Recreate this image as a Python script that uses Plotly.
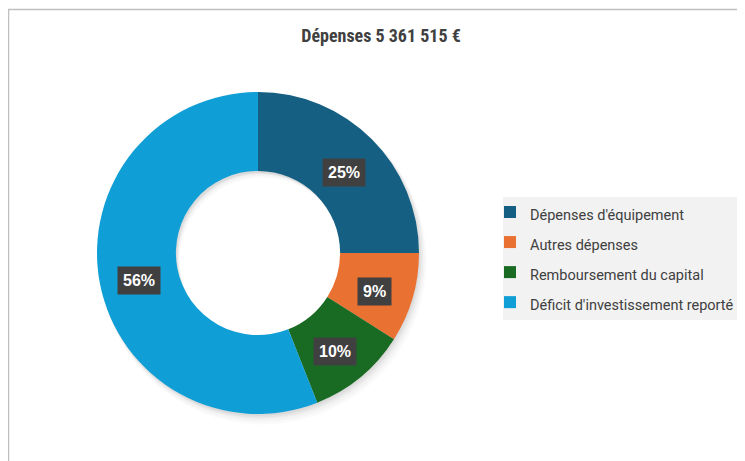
import math
import plotly.graph_objects as go

OFF = 8  # page body margin: page pixel -> figure pixel
W, H = 745 - OFF, 461 - OFF

categories = ["Dépenses d'équipement", "Autres dépenses", "Remboursement du capital", "Déficit d'investissement reporté"]
values = [25, 9, 10, 56]
colors = ["#156082", "#E97132", "#196B24", "#0F9ED5"]
title_text = "Dépenses 5 361 515 €"


def fx(px):
    return (px - OFF) / W


def fy(py):
    return 1 - (py - OFF) / H


# pie geometry (page pixels)
cx, cy, R = 258, 253, 161
hole = 0.51

legend_font_px = 14.5
legend_labels = [f'<span style="font-size:{legend_font_px}px">{c}</span>' for c in categories]

traces = []
# soft drop shadow (Excel effect), layered
for i, (dx, dy, a) in enumerate([(1, 2, 0.035), (2, 3, 0.035), (3, 4, 0.03), (4, 6, 0.025), (5, 8, 0.02)]):
    rr = R + i * 0.6
    traces.append(go.Pie(
        labels=[f"shadow{i}"], values=[sum(values)], hole=hole, sort=False,
        textinfo="none", showlegend=False, hoverinfo="skip",
        marker=dict(colors=[f"rgba(0,0,0,{a})"], line=dict(width=0)),
        domain=dict(x=[fx(cx + dx - rr), fx(cx + dx + rr)], y=[fy(cy + dy + rr), fy(cy + dy - rr)]),
    ))

traces.append(go.Pie(
    labels=legend_labels,
    values=values,
    hole=hole,
    sort=False,
    direction="clockwise",
    rotation=0,
    textinfo="none",
    marker=dict(colors=colors, line=dict(width=0)),
    domain=dict(x=[fx(cx - R), fx(cx + R)], y=[fy(cy + R), fy(cy - R)]),
    hoverinfo="percent",
))

fig = go.Figure(traces)

# percentage labels placed at slice mid-angles
total = sum(values)
cum = 0
annotations = []
r_lab = 121
for v in values:
    mid = (cum + v / 2) / total * 2 * math.pi
    cum += v
    px = cx + r_lab * math.sin(mid)
    py = cy - r_lab * math.cos(mid) + 5
    annotations.append(dict(
        x=fx(px), y=fy(py), xref="paper", yref="paper", xanchor="center", yanchor="middle",
        text=f"<b>{round(v / total * 100)}%</b>", showarrow=False,
        font=dict(family="Liberation Sans, Arial", size=16, color="white"),
        bgcolor="#404040", borderpad=5,
    ))

shapes = [
    # chart border
    dict(type="rect", xref="paper", yref="paper", x0=fx(8.5), x1=1.05, y0=-0.05, y1=fy(9.5),
         line=dict(color="#BFBFBF", width=1.5), fillcolor="rgba(0,0,0,0)", layer="below"),
    # legend background
    dict(type="rect", xref="paper", yref="paper", x0=fx(503), x1=1.05, y0=fy(320), y1=fy(197),
         line=dict(width=0), fillcolor="#F2F2F2", layer="below"),
]

fig.update_layout(
    width=W, height=H,
    margin=dict(l=0, r=0, t=0, b=0),
    paper_bgcolor="white",
    title=dict(text=f"<b>{title_text}</b>", x=fx(381), xanchor="center", y=fy(36), yanchor="middle",
               font=dict(family="Liberation Sans Narrow, Roboto Condensed, Roboto", size=18, color="#404040")),
    showlegend=True,
    legend=dict(x=fx(490), xanchor="left", y=fy(192), yanchor="top",
                bgcolor="rgba(0,0,0,0)", borderwidth=0,
                font=dict(family="Roboto, Open Sans", size=20.8, color="#404040")),
    annotations=annotations,
    shapes=shapes,
)

fig.write_html("out.html")
